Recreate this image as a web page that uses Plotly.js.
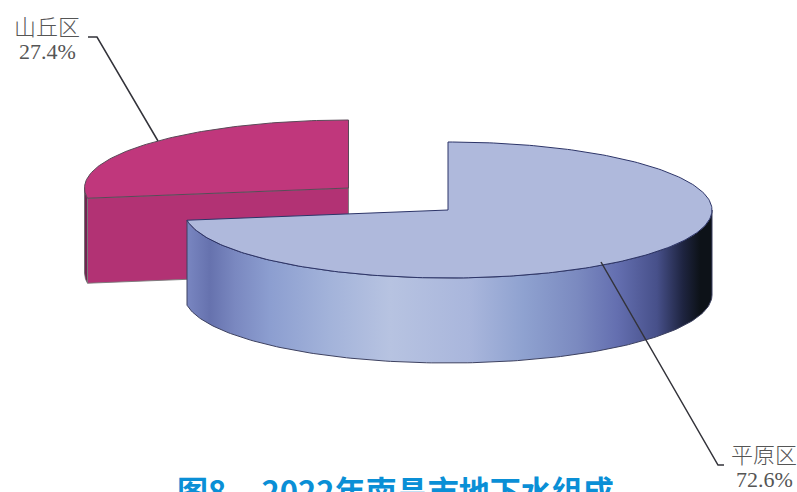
<!DOCTYPE html>
<html>
<head>
<meta charset="utf-8">
<script src="https://cdn.plot.ly/plotly-3.0.1.min.js"></script>
<style>html,body{margin:0;padding:0;background:#fff;overflow:hidden}</style>
</head>
<body>
<div id="chart" style="width:797px;height:492px"></div>
<script>
// Shares of groundwater by terrain, in percent
const regions = ['平原区', '山丘区'];
const shares = [72.6, 27.4];
const chartTitle = '图8\u00a0\u00a0\u00a0\u00a0\u00a02022年南昌市地下水组成';

// Shading across the outer wall of the plain slice, left to right
const wallStopX = [188, 210, 235, 270, 330, 390, 470, 523, 577, 617, 657, 683, 700, 712];
const wallStopColor = ['#7885c0', '#6672ae', '#7a88c0', '#8c9ed0', '#a3b3da', '#b7c3e1', '#a9b6dc',
  '#8fa2d0', '#7b8ac0', '#646fb0', '#47508a', '#1e2440', '#0d1218', '#0d1218'];

// Projection of the tilted disc, in axis units that equal pixels
const radiusX = 264, radiusY = 68, depth = 85;
const plainCentre = [448, 210];
const hillCentre = [348.5, 188];

function point(centre, deg, drop) {
  const a = deg * Math.PI / 180;
  return [centre[0] + radiusX * Math.sin(a), centre[1] - radiusY * Math.cos(a) + drop];
}
function arc(centre, from, to, drop) {
  const pts = [];
  const n = Math.max(2, Math.ceil(Math.abs(to - from)));
  for (let i = 0; i <= n; i++) pts.push(point(centre, from + (to - from) * i / n, drop));
  return pts;
}
function polygon(pts, fill, line, width) {
  return {
    type: 'scatter', mode: 'lines', hoverinfo: 'skip', showlegend: false,
    x: pts.map(p => p[0]), y: pts.map(p => p[1]), fill: 'toself', fillcolor: fill,
    line: { color: line, width: width }
  };
}
function leader(pts) {
  return {
    type: 'scatter', mode: 'lines', hoverinfo: 'skip', showlegend: false,
    x: pts.map(p => p[0]), y: pts.map(p => p[1]), line: { color: '#33333a', width: 1.5 }
  };
}

// Slices run clockwise from twelve o'clock, plain first
const plainEnd = shares[0] / 100 * 360;

// Detached hill slice: side strip, cut face, top
const hillSide = arc(hillCentre, plainEnd, 270, 0).concat(arc(hillCentre, 270, plainEnd, depth));
const hillFace = [point(hillCentre, plainEnd, 0), hillCentre, [hillCentre[0], hillCentre[1] + depth], point(hillCentre, plainEnd, depth)];
const hillTop = [hillCentre].concat(arc(hillCentre, plainEnd, 360, 0));
hillTop.push(hillCentre);

// Plain slice: outer wall, top
const plainWall = arc(plainCentre, 90, plainEnd, 0).concat(arc(plainCentre, plainEnd, 90, depth));
plainWall.push(plainWall[0]);
const plainTop = [plainCentre].concat(arc(plainCentre, 0, plainEnd, 0));
plainTop.push(plainCentre);

const wallSpan = wallStopX[wallStopX.length - 1] - wallStopX[0];
const wallTrace = polygon(plainWall, '#8ea4d0', '#3d4160', 1);
wallTrace.fillgradient = {
  type: 'horizontal', start: wallStopX[0], stop: wallStopX[wallStopX.length - 1],
  colorscale: wallStopX.map((x, i) => [(x - wallStopX[0]) / wallSpan, wallStopColor[i]])
};

const traces = [
  polygon(hillSide, '#702450', '#666666', 0.8),
  polygon(hillFace.concat([hillFace[0]]), '#b23274', '#777777', 0.9),
  polygon(hillTop, '#c0377c', '#5a4a58', 1),
  wallTrace,
  polygon(plainTop, '#afb9dc', '#2c3468', 1),
  leader([[88, 37], [97, 37], [158, 141]]),
  leader([[601, 262], [718, 465], [724, 465]])
];

const labelFont = { family: '"Noto Sans CJK SC", sans-serif', size: 22, color: '#555', weight: 300 };
const valueFont = { family: '"Liberation Serif", serif', size: 22, color: '#555' };
function note(text, x, y, font, anchor) {
  return { text: text, x: x, y: y, xref: 'x', yref: 'y', showarrow: false, xanchor: 'center', yanchor: anchor || 'middle', font: font };
}

const layout = {
  width: 797, height: 492,
  margin: { l: 0, r: 0, t: 0, b: 0, pad: 0 },
  paper_bgcolor: '#fff', plot_bgcolor: '#fff', showlegend: false,
  xaxis: { range: [0, 797], visible: false, fixedrange: true },
  yaxis: { range: [492, 0], visible: false, fixedrange: true },
  annotations: [
    note(regions[1], 47, 25, labelFont),
    note(shares[1].toFixed(1) + '%', 47, 51, valueFont),
    note(regions[0], 764, 453, labelFont),
    note(shares[0].toFixed(1) + '%', 764, 479, valueFont),
    note(chartTitle, 395, 465, { family: '"Noto Sans CJK SC", sans-serif', size: 31, color: '#0a8fd6', weight: 700 }, 'top')
  ]
};

Plotly.newPlot('chart', traces, layout, { displayModeBar: false, staticPlot: true });
</script>
</body>
</html>
